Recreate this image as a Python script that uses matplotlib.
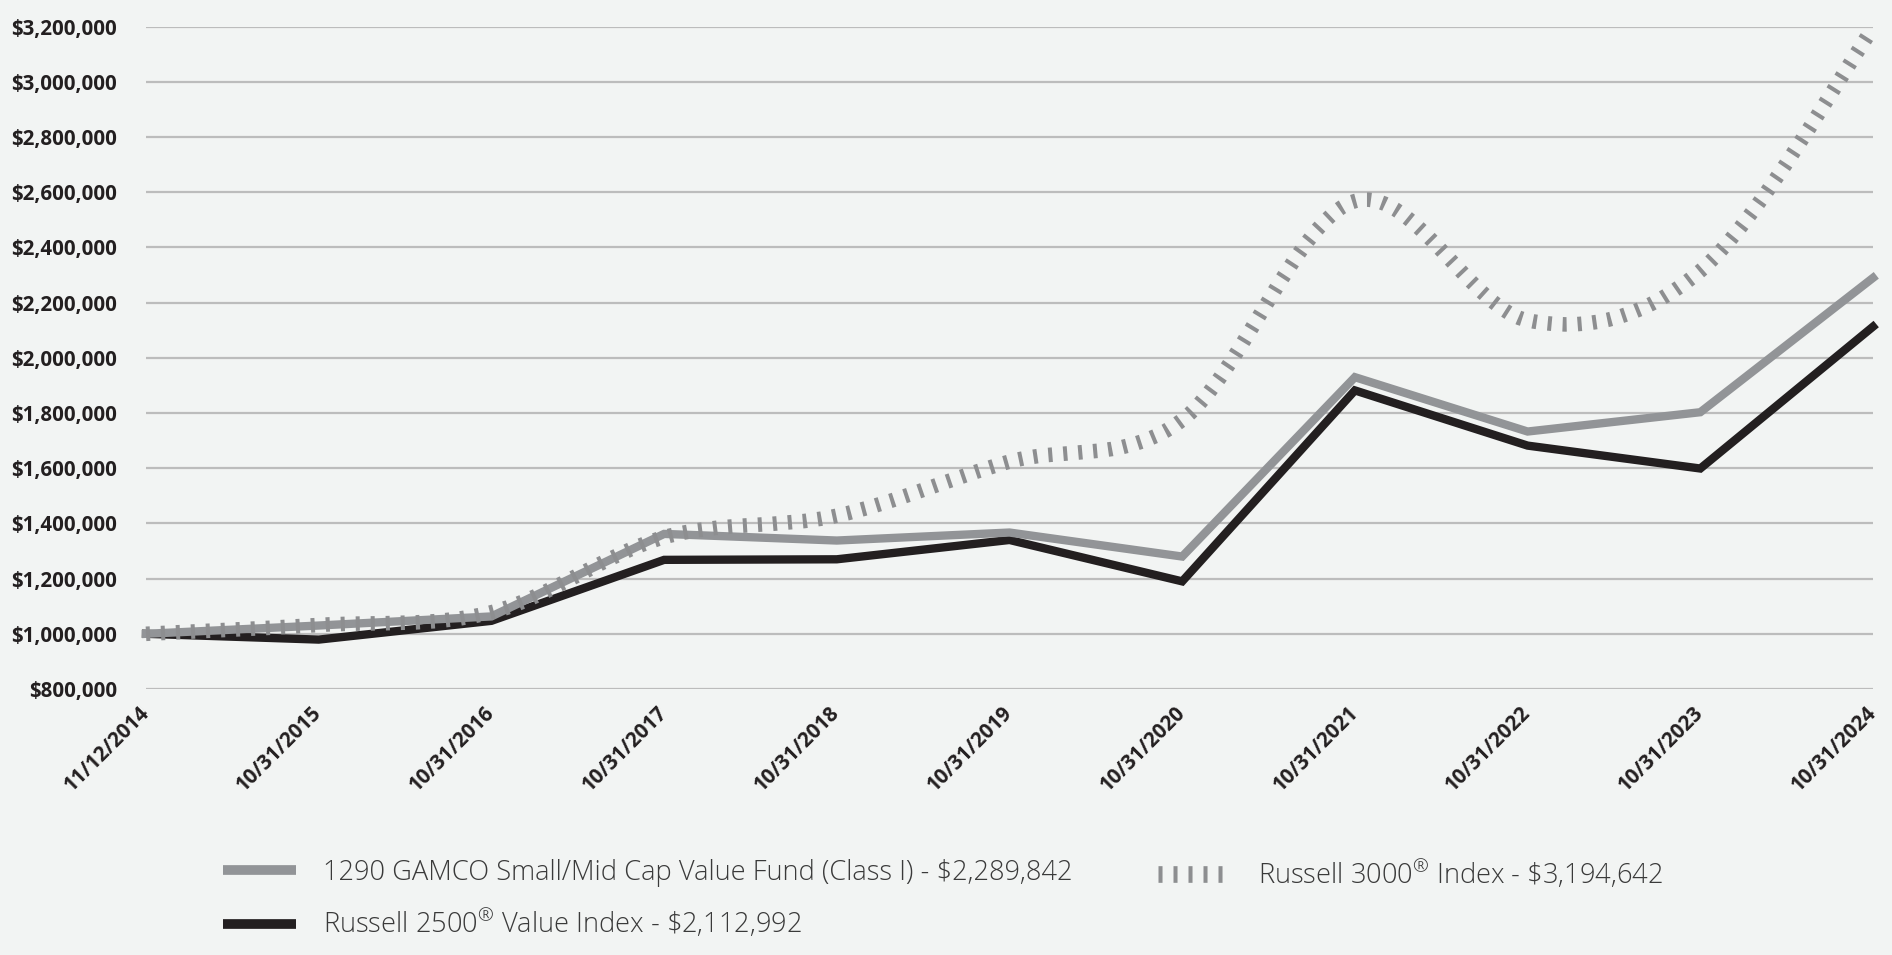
import matplotlib
matplotlib.use("Agg")
import matplotlib.pyplot as plt
from matplotlib.path import Path
from matplotlib.patches import PathPatch
from matplotlib.lines import Line2D
from matplotlib.ticker import FuncFormatter

# Valeurs
dates = ["11/12/2014", "10/31/2015", "10/31/2016", "10/31/2017", "10/31/2018",
         "10/31/2019", "10/31/2020", "10/31/2021", "10/31/2022", "10/31/2023",
         "10/31/2024"]
fonds = [1000000, 1030000, 1063000, 1362000, 1338000, 1367000, 1280000,
         1930000, 1733000, 1803000, 2289842]
r2500 = [1000000, 979000, 1047000, 1268000, 1270000, 1340000, 1190000,
         1882000, 1682000, 1599000, 2112992]
r3000 = [1000000, 1032000, 1078000, 1350000, 1428000, 1624000, 1775000,
         2568000, 2136000, 2315000, 3194642]

labels = [r"1290 GAMCO Small/Mid Cap Value Fund (Class I) - \$2,289,842",
          r"Russell 2500$^{\mathrm{®}}$ Value Index - \$2,112,992",
          r"Russell 3000$^{\mathrm{®}}$ Index - \$3,194,642"]

gris = "#929497"
gris_pointille = "#8D8E90"
noir = "#231F20"
fond_fig = "#F2F4F3"

plt.rcParams["font.family"] = ["Open Sans", "DejaVu Sans"]
plt.rcParams["mathtext.fontset"] = "custom"
plt.rcParams["mathtext.rm"] = "Open Sans:light"
plt.rcParams["mathtext.it"] = "Open Sans:light"
plt.rcParams["lines.scale_dashes"] = False

fig = plt.figure(figsize=(18.92, 9.55), dpi=100, facecolor=fond_fig)
ax = fig.add_axes([146 / 1892, 1 - 689 / 955, (1873 - 146) / 1892, (689 - 26.7) / 955])
ax.set_facecolor(fond_fig)

x = list(range(len(dates)))

ax.plot(x, r2500, color=noir, linewidth=6, solid_joinstyle="miter", zorder=3, clip_on=False)
ax.plot(x, fonds, color=gris, linewidth=6, solid_joinstyle="miter", zorder=4, clip_on=False)

# courbe lissée (Catmull-Rom -> Bézier) pour le Russell 3000
verts = [(x[0], r3000[0])]
codes = [Path.MOVETO]
n = len(x)
for i in range(n - 1):
    p0 = (x[max(i - 1, 0)], r3000[max(i - 1, 0)])
    p1 = (x[i], r3000[i])
    p2 = (x[i + 1], r3000[i + 1])
    p3 = (x[min(i + 2, n - 1)], r3000[min(i + 2, n - 1)])
    c1 = (p1[0] + (p2[0] - p0[0]) / 6, p1[1] + (p2[1] - p0[1]) / 6)
    c2 = (p2[0] - (p3[0] - p1[0]) / 6, p2[1] - (p3[1] - p1[1]) / 6)
    verts += [c1, c2, p2]
    codes += [Path.CURVE4] * 3
patch = PathPatch(Path(verts, codes), facecolor="none", edgecolor=gris_pointille,
                  linewidth=10.5, linestyle=(0, (2.9, 7.9)), capstyle="butt",
                  zorder=5, clip_on=False)
ax.add_patch(patch)

ax.set_xlim(0, 10)
ax.set_ylim(800000, 3200000)
ax.set_yticks(range(800000, 3200001, 200000))
ax.yaxis.set_major_formatter(FuncFormatter(lambda v, p: f"${v:,.0f}"))
ax.set_xticks(x)
ax.set_xticklabels(dates, rotation=45, ha="right", va="center",
                   rotation_mode="anchor", fontweight="bold", fontsize=14.8)
for t in ax.get_yticklabels():
    t.set_fontweight("bold")
    t.set_fontsize(14.8)
ax.tick_params(axis="x", length=0, pad=15, colors="#231F20")
ax.tick_params(axis="y", length=0, pad=21, colors="#231F20")
ax.grid(axis="y", color="#BCBCBC", linewidth=1.6, zorder=0)
ax.grid(axis="x", visible=False)
for s in ax.spines.values():
    s.set_visible(False)

# légende en deux colonnes
h_fonds = Line2D([], [], color=gris, linewidth=7, solid_capstyle="butt")
h_2500 = Line2D([], [], color=noir, linewidth=7, solid_capstyle="butt")
h_3000 = Line2D([], [], color=gris_pointille, linewidth=12, linestyle=(0, (2.9, 7.9)),
                dash_capstyle="butt")

taille = 19.6
leg1 = fig.legend([h_fonds, h_2500], labels[:2], loc="center left",
                  bbox_to_anchor=(223 / 1892, 1 - 899.5 / 955), frameon=False,
                  borderpad=0, borderaxespad=0, handlelength=52.6 / taille,
                  handletextpad=19.4 / taille, labelspacing=0.75,
                  prop={"size": taille, "weight": "light"}, labelcolor="#3A3A3A")
leg2 = fig.legend([h_3000], labels[2:], loc="center left",
                  bbox_to_anchor=(1158 / 1892, 1 - 874 / 955), frameon=False,
                  borderpad=0, borderaxespad=0, handlelength=48.2 / taille,
                  handletextpad=23.8 / taille,
                  prop={"size": taille, "weight": "light"}, labelcolor="#3A3A3A")

fig.savefig("out.png", dpi=100, facecolor=fond_fig)
